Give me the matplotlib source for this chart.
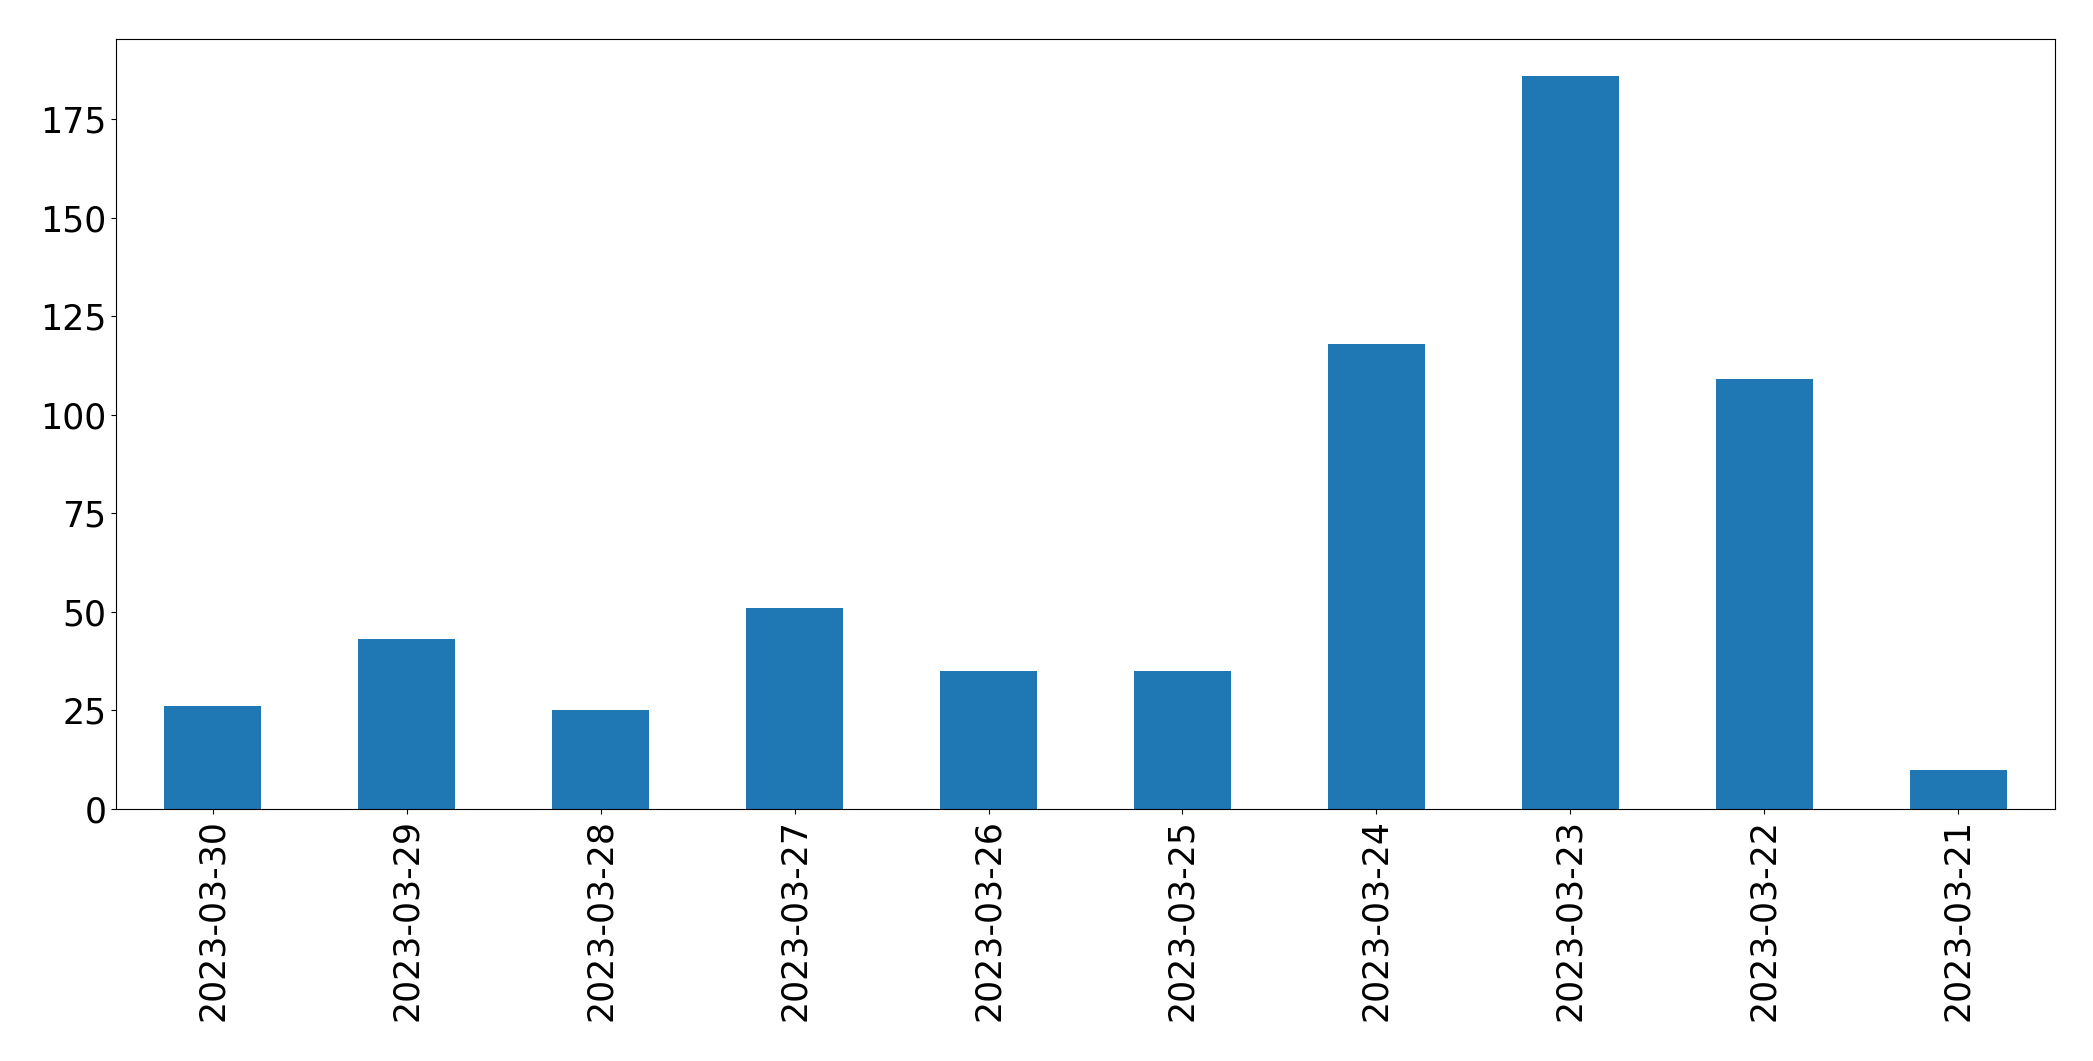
import matplotlib
matplotlib.use('Agg')
import matplotlib.pyplot as plt
import numpy as np

# Dates (newest first) and counts per day
dates = ['2023-03-30', '2023-03-29', '2023-03-28', '2023-03-27', '2023-03-26',
         '2023-03-25', '2023-03-24', '2023-03-23', '2023-03-22', '2023-03-21']
counts = [26, 43, 25, 51, 35, 35, 118, 186, 109, 10]

fig = plt.figure(figsize=(20.93, 10.61), dpi=100)
ax = fig.add_axes([116 / 2093, 1 - 809 / 1061, (2055 - 116) / 2093, (809 - 39) / 1061])

x = np.arange(len(dates))
ax.bar(x, counts, width=0.5, color='#1f77b4')
ax.set_xlim(-0.5, len(dates) - 0.5)
ax.set_xticks(x)
ax.set_xticklabels(dates, rotation=90)
ax.tick_params(axis='both', labelsize=25)

fig.savefig('out.png', dpi=100)
